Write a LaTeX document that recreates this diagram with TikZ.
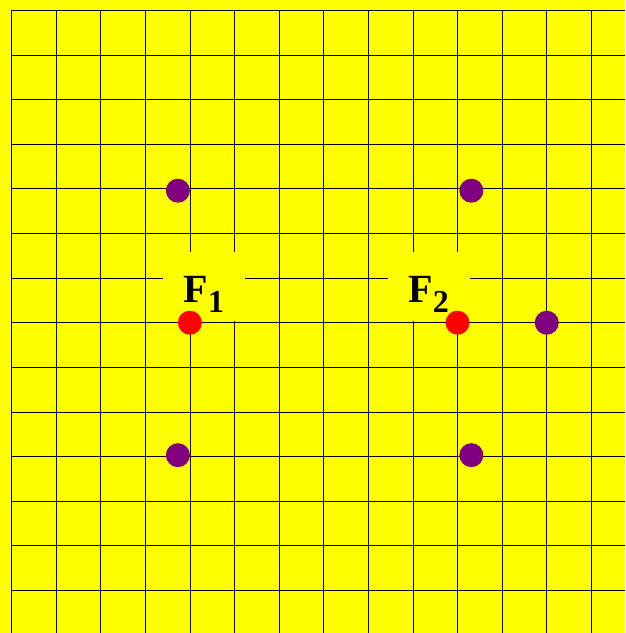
\documentclass[tikz,border=0pt]{standalone}
\usepackage{fontspec}
\setmainfont{Liberation Serif}
\usepackage{xcolor}
\definecolor{bgyellow}{HTML}{FFFF00}
\definecolor{dotred}{HTML}{FF0000}
\definecolor{dotpurple}{HTML}{800080}
\newcommand{\focus}[1]{{\fontsize{40}{40}\selectfont F}\raisebox{-10pt}{\fontsize{32}{32}\selectfont #1}}

\begin{document}
\begin{tikzpicture}[x=44.6pt, y=-44.6pt,
	grid_style/.style={
	    draw=black,
	    line width=0.8pt
	    },
	dot_style/.style={
	    circle,
	    inner sep=0pt,
	    minimum size=24pt
	    },
	label_style/.style={
	    fill=bgyellow,
	    inner xsep=0pt, inner ysep=0pt,
	    minimum width=82pt,
	    text height=51pt, text depth=18pt,
	    anchor=base,
	    font=\bfseries
	    }
	]
	% background and grid
	\fill[bgyellow] (-0.258,-0.235) rectangle (13.756,13.957);
	\useasboundingbox (-0.258,-0.235) rectangle (13.756,13.957);
	\foreach \i in {0,...,13}{
	    \draw[grid_style] (\i,0) -- (\i,13.957);
	    \draw[grid_style] (0,\i) -- (13.756,\i);
	}

	% all the nodes
	\node[label_style] (l1) at (4.316,6.558) {\focus{1}};
	\node[label_style] (l2) at (9.35,6.558) {\focus{2}};

	\node[dot_style, fill=dotred] (f1) at (4,7) {};
	\node[dot_style, fill=dotred] (f2) at (10,7) {};

	\node[dot_style, fill=dotpurple] (p1) at (3.73,4.04) {};
	\node[dot_style, fill=dotpurple] (p2) at (10.31,4.04) {};
	\node[dot_style, fill=dotpurple] (p3) at (3.73,9.97) {};
	\node[dot_style, fill=dotpurple] (p4) at (10.31,9.97) {};
	\node[dot_style, fill=dotpurple] (p5) at (12,7) {};
\end{tikzpicture}
\end{document}
